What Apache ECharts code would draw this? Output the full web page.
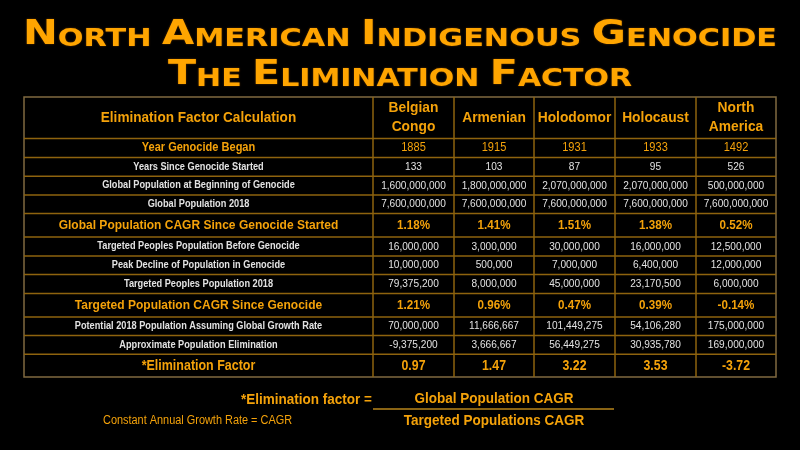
<!DOCTYPE html>
<html>
<head>
<meta charset="utf-8">
<script src="https://cdn.jsdelivr.net/npm/echarts@6/dist/echarts.min.js"></script>
<style>
html, body { margin: 0; background: #000; }
#main { width: 800px; height: 450px; }
</style>
</head>
<body>
<div id="main"></div>
<script>
// table content
var columns = ['Belgian\nCongo', 'Armenian', 'Holodomor', 'Holocaust', 'North\nAmerica'];
var rowLabels = [
	'Elimination Factor Calculation',
	'Year Genocide Began',
	'Years Since Genocide Started',
	'Global Population at Beginning of Genocide',
	'Global Population 2018',
	'Global Population CAGR Since Genocide Started',
	'Targeted Peoples Population Before Genocide',
	'Peak Decline of Population in Genocide',
	'Targeted Peoples Population 2018',
	'Targeted Population CAGR Since Genocide',
	'Potential 2018 Population Assuming Global Growth Rate',
	'Approximate Population Elimination',
	'*Elimination Factor'
];
var yearBegan = [1885, 1915, 1931, 1933, 1492];
var yearsSince = [133, 103, 87, 95, 526];
var globalPopStart = [1600000000, 1800000000, 2070000000, 2070000000, 500000000];
var globalPop2018 = [7600000000, 7600000000, 7600000000, 7600000000, 7600000000];
var globalCagr = [1.18, 1.41, 1.51, 1.38, 0.52];
var targetedBefore = [16000000, 3000000, 30000000, 16000000, 12500000];
var peakDecline = [10000000, 500000, 7000000, 6400000, 12000000];
var targeted2018 = [79375200, 8000000, 45000000, 23170500, 6000000];
var targetedCagr = [1.21, 0.96, 0.47, 0.39, -0.14];
var potential2018 = [70000000, 11666667, 101449275, 54106280, 175000000];
var approxElimination = [-9375200, 3666667, 56449275, 30935780, 169000000];
var eliminationFactor = [0.97, 1.47, 3.22, 3.53, -3.72];

// layout (relative widths / heights)
var colUnits = [349, 81, 80, 81, 81, 80];
var rowUnits = [41.6, 19, 18.7, 18.7, 18.6, 23.4, 19, 18.6, 19, 23.4, 18.6, 18.7, 22.7];
var rowKinds = ['head', 'year', 'plain', 'plain', 'plain', 'cagr', 'plain', 'plain', 'plain', 'cagr', 'plain', 'plain', 'factor'];

var ORANGE = '#f4a20a';
var WHITE = '#e2e2e2';
var LINE = '#8e630e';
var FONT = '"Liberation Sans", Arial, sans-serif';

var textStyles = {
	head:   { label: { c: ORANGE, w: 'bold', s: 14, k: 0.97 }, value: { c: ORANGE, w: 'bold', s: 15, k: 0.92, lh: 19 } },
	year:   { label: { c: ORANGE, w: 'bold', s: 12, k: 0.92 }, value: { c: ORANGE, w: 'normal', s: 12, k: 0.92 } },
	plain:  { label: { c: WHITE, w: 'bold', s: 10, k: 0.92 }, value: { c: WHITE, w: 'normal', s: 11, k: 0.92 } },
	cagr:   { label: { c: ORANGE, w: 'bold', s: 13.5, k: 0.89 }, value: { c: ORANGE, w: 'bold', s: 12.5, k: 0.93 } },
	factor: { label: { c: ORANGE, w: 'bold', s: 14.5, k: 0.86 }, value: { c: ORANGE, w: 'bold', s: 14, k: 0.88 } }
};

function fmtInt(v) { return v.toLocaleString('en-US'); }
function fmtPct(v) { return v.toFixed(2) + '%'; }
function fmtFix(v) { return v.toFixed(2); }

var rowValues = [
	columns,
	yearBegan.map(String),
	yearsSince.map(String),
	globalPopStart.map(fmtInt),
	globalPop2018.map(fmtInt),
	globalCagr.map(fmtPct),
	targetedBefore.map(fmtInt),
	peakDecline.map(fmtInt),
	targeted2018.map(fmtInt),
	targetedCagr.map(fmtPct),
	potential2018.map(fmtInt),
	approxElimination.map(fmtInt),
	eliminationFactor.map(fmtFix)
];

function edges(units) {
	var out = [0];
	for (var i = 0; i < units.length; i++) out.push(out[i] + units[i]);
	return out;
}
var colEdges = edges(colUnits);
var rowEdges = edges(rowUnits);

var cells = [];
for (var r = 0; r < rowLabels.length; r++) {
	for (var c = 0; c <= columns.length; c++) {
		cells.push([c, r]);
	}
}

function renderCell(params, api) {
	var c = api.value(0), r = api.value(1);
	var p0 = api.coord([colEdges[c], rowEdges[r]]);
	var p1 = api.coord([colEdges[c + 1], rowEdges[r + 1]]);
	var st = c === 0 ? textStyles[rowKinds[r]].label : textStyles[rowKinds[r]].value;
	var text = c === 0 ? rowLabels[r] : rowValues[r][c - 1];
	var children = [];
	if (c < columns.length) {
		children.push({ type: 'line', shape: { x1: p1[0], y1: p0[1], x2: p1[0], y2: p1[1] }, style: { stroke: LINE, lineWidth: 1.5 } });
	}
	if (r < rowLabels.length - 1) {
		children.push({ type: 'line', shape: { x1: p0[0], y1: p1[1], x2: p1[0], y2: p1[1] }, style: { stroke: LINE, lineWidth: 1.5 } });
	}
	children.push({
		type: 'text',
		x: (p0[0] + p1[0]) / 2,
		y: (p0[1] + p1[1]) / 2,
		scaleX: st.k,
		style: {
			text: text, fill: st.c, fontSize: st.s, fontWeight: st.w, fontFamily: FONT,
			lineHeight: st.lh, align: 'center', verticalAlign: 'middle'
		}
	});
	return { type: 'group', children: children };
}

// title in small caps, stretched to the table width
var TITLE_FONT = '"DejaVu Sans", Verdana, sans-serif';
var BIG = 33, SMALL = 24;
var ctx = document.createElement('canvas').getContext('2d');
function measure(str, size) {
	ctx.font = 'bold ' + size + 'px ' + TITLE_FONT;
	return ctx.measureText(str).width;
}
function smallCaps(line) {
	var words = line.toUpperCase().split(' ');
	var w = 0;
	var parts = words.map(function(word) {
		w += measure(word.charAt(0), BIG) + measure(word.slice(1), SMALL);
		return '{b|' + word.charAt(0) + '}{s|' + word.slice(1) + '}';
	});
	w += (words.length - 1) * measure(' ', SMALL);
	return { text: parts.join('{s| }'), width: w };
}
var title1 = smallCaps('North American Indigenous Genocide');
var title2 = smallCaps('The Elimination Factor');
var titleRich = {
	b: { fontSize: BIG, fontWeight: 'bold', fontFamily: TITLE_FONT, fill: '#ffa500', verticalAlign: 'bottom', lineHeight: BIG },
	s: { fontSize: SMALL, fontWeight: 'bold', fontFamily: TITLE_FONT, fill: '#ffa500', verticalAlign: 'bottom', lineHeight: SMALL }
};

var chart = echarts.init(document.getElementById('main'));
chart.setOption({
	backgroundColor: '#000',
	animation: false,
	grid: {
		left: 24, right: 24, top: 97, bottom: 73,
		show: true, borderColor: '#806a40', borderWidth: 1.5, backgroundColor: 'transparent'
	},
	xAxis: {
		type: 'value', min: 0, max: colEdges[colEdges.length - 1],
		axisLine: { show: false }, axisTick: { show: false }, axisLabel: { show: false }, splitLine: { show: false }
	},
	yAxis: {
		type: 'value', min: 0, max: rowEdges[rowEdges.length - 1], inverse: true,
		axisLine: { show: false }, axisTick: { show: false }, axisLabel: { show: false }, splitLine: { show: false }
	},
	graphic: [
		{ type: 'text', x: 400, y: 35, scaleX: 754 / title1.width,
		  style: { text: title1.text, rich: titleRich, align: 'center', verticalAlign: 'middle',
		           textShadowColor: 'rgba(130,70,0,0.8)', textShadowBlur: 2 } },
		{ type: 'text', x: 400, y: 75, scaleX: 464 / title2.width,
		  style: { text: title2.text, rich: titleRich, align: 'center', verticalAlign: 'middle',
		           textShadowColor: 'rgba(130,70,0,0.8)', textShadowBlur: 2 } },
		{ type: 'text', x: 372, y: 400, scaleX: 0.9,
		  style: { text: '*Elimination factor =', fill: ORANGE, fontSize: 15, fontWeight: 'bold', fontFamily: FONT, align: 'right', verticalAlign: 'middle' } },
		{ type: 'text', x: 494, y: 399, scaleX: 0.9,
		  style: { text: 'Global Population CAGR', fill: ORANGE, fontSize: 15, fontWeight: 'bold', fontFamily: FONT, align: 'center', verticalAlign: 'middle' } },
		{ type: 'line', shape: { x1: 373, y1: 409, x2: 614, y2: 409 }, style: { stroke: '#8a6414', lineWidth: 2 } },
		{ type: 'text', x: 494, y: 421, scaleX: 0.9,
		  style: { text: 'Targeted Populations CAGR', fill: ORANGE, fontSize: 15, fontWeight: 'bold', fontFamily: FONT, align: 'center', verticalAlign: 'middle' } },
		{ type: 'text', x: 103, y: 421, scaleX: 0.91,
		  style: { text: 'Constant Annual Growth Rate = CAGR', fill: ORANGE, fontSize: 12, fontFamily: FONT, align: 'left', verticalAlign: 'middle' } }
	],
	series: [{
		type: 'custom',
		renderItem: renderCell,
		data: cells,
		clip: false,
		silent: true
	}]
});
window.onresize = chart.resize;
</script>
</body>
</html>
